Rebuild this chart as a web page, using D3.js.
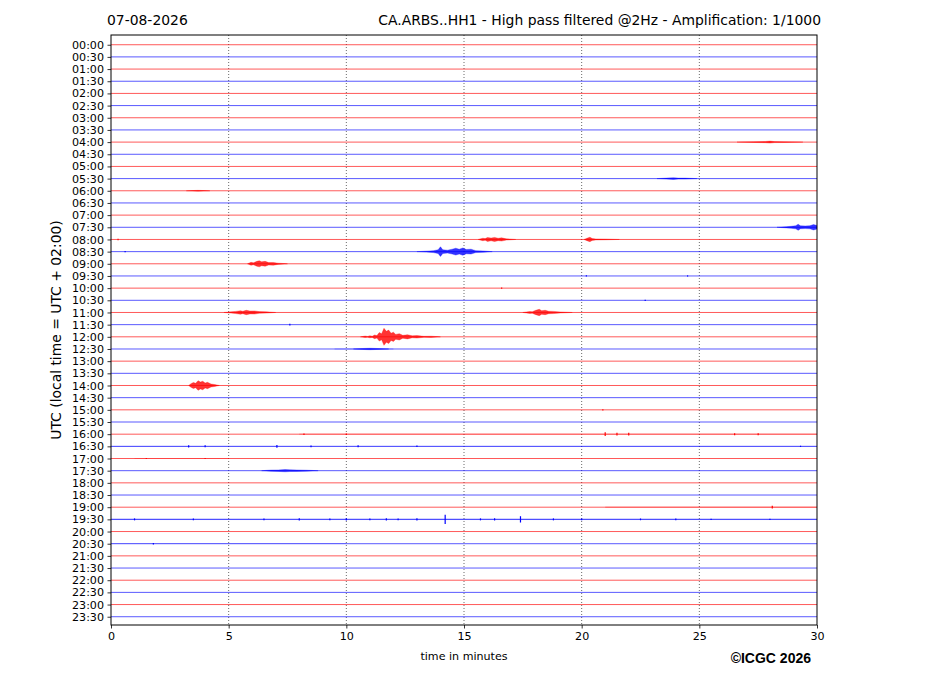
<!DOCTYPE html>
<html>
<head>
<meta charset="utf-8">
<script src="https://cdn.jsdelivr.net/npm/d3@7"></script>
<style>
  html, body { margin: 0; padding: 0; background: #fff; }
  svg { display: block; }
  text { font-family: "DejaVu Sans", sans-serif; fill: #000; }
</style>
</head>
<body>
<svg id="chart" width="927" height="696"></svg>
<script>
// ---------- data ----------
const dateLabel = "07-08-2026";
const titleLabel = "CA.ARBS..HH1 - High pass filtered @2Hz - Amplification: 1/1000";
const xLabel = "time in minutes";
const yLabel = "UTC (local time = UTC + 02:00)";
const credit = "\u00A9ICGC 2026";

// rows of the helicorder (one every 30 minutes)
const rowLabels = [
  "00:00","00:30","01:00","01:30","02:00","02:30","03:00","03:30",
  "04:00","04:30","05:00","05:30","06:00","06:30","07:00","07:30",
  "08:00","08:30","09:00","09:30","10:00","10:30","11:00","11:30",
  "12:00","12:30","13:00","13:30","14:00","14:30","15:00","15:30",
  "16:00","16:30","17:00","17:30","18:00","18:30","19:00","19:30",
  "20:00","20:30","21:00","21:30","22:00","22:30","23:00","23:30"
];
const minuteTicks = [0, 5, 10, 15, 20, 25, 30];
const traceColors = ["#ff0000", "#0000ff"];

// event envelopes: row index, list of [minute, half-amplitude in counts]
const eventRows = [24, 28, 18, 22, 22, 16, 16, 17, 15, 8, 11, 35, 25, 12];
const eventEnvelopes = [
  [[10.6,0],[10.8,60],[10.9,30],[11.0,80],[11.1,50],[11.2,150],[11.3,100],[11.4,350],[11.5,250],[11.6,700],[11.7,450],[11.8,550],[11.9,300],[12.0,380],[12.1,200],[12.25,260],[12.4,120],[12.6,170],[12.8,80],[13.0,100],[13.3,40],[13.6,50],[14.0,0]],
  [[3.3,0],[3.4,150],[3.5,250],[3.6,180],[3.7,400],[3.8,280],[3.9,350],[4.0,200],[4.1,260],[4.25,120],[4.4,80],[4.6,0]],
  [[5.8,0],[5.95,120],[6.05,80],[6.2,200],[6.3,250],[6.4,160],[6.55,200],[6.7,100],[6.9,110],[7.1,50],[7.5,0]],
  [[4.8,0],[5.1,50],[5.3,90],[5.5,140],[5.6,100],[5.75,180],[5.9,120],[6.1,130],[6.3,70],[6.6,50],[7.0,0]],
  [[17.5,0],[17.8,80],[17.9,60],[18.05,180],[18.2,260],[18.3,150],[18.45,180],[18.6,100],[18.8,90],[19.1,40],[19.6,0]],
  [[15.6,0],[15.8,100],[15.9,70],[16.0,160],[16.15,110],[16.3,170],[16.45,100],[16.6,130],[16.8,50],[17.2,0]],
  [[20.1,0],[20.25,120],[20.35,180],[20.45,80],[20.6,40],[21.0,30],[21.6,0]],
  [[13.0,0],[13.4,40],[13.7,80],[13.9,150],[14.0,400],[14.1,150],[14.3,120],[14.5,200],[14.65,280],[14.8,200],[14.95,300],[15.1,180],[15.3,200],[15.5,80],[15.8,60],[16.2,0]],
  [[28.3,0],[28.7,50],[28.9,80],[29.1,130],[29.2,250],[29.3,120],[29.5,110],[29.7,130],[29.85,220],[30.0,150]],
  [[26.6,0],[27.3,30],[27.8,50],[28.0,80],[28.2,40],[28.6,35],[29.4,0]],
  [[23.2,0],[23.6,40],[23.9,70],[24.1,40],[24.4,40],[24.9,0]],
  [[6.4,0],[6.8,50],[7.1,60],[7.4,90],[7.6,70],[7.9,60],[8.3,40],[8.8,0]],
  [[10.3,0],[10.7,40],[11.0,60],[11.3,40],[11.8,0]],
  [[3.2,0],[3.7,35],[4.2,0]]
];

// isolated spikes: row index, minute, half-amplitude in counts
const spikeRows    = [39,39,39,39,39,39,39,39,39,39,39,39,39,39,39,39,39,39,39,39, 32,32,32,32,32,32,32, 33,33,33,33,33,33,33, 38,34,34,41,20,21,19,19,16,17,23,30];
const spikeMinutes = [14.2,17.4,1.0,3.5,6.5,8.0,9.3,10.0,11.0,11.7,12.2,13.0,15.7,16.3,18.8,20.0,22.5,24.0,25.5,28.0, 21.0,21.5,22.0,8.2,10.0,26.5,27.5, 3.3,4.0,7.05,8.5,10.5,13.0,29.3, 28.1,4.0,1.5,1.8,16.6,22.7,20.2,24.5,0.3,0.6,7.6,20.9];
const spikeAmps    = [380,260,80,70,80,90,80,90,80,90,70,90,80,90,80,70,70,70,60,60, 150,110,110,60,60,80,80, 100,80,110,70,80,60,50, 110,40,40,60,50,50,50,50,60,60,70,50];

// background noise bands: row index, start minute, end minute, half-amplitude in counts
const noiseRows   = [39, 32, 38, 33, 34, 25, 41];
const noiseStart  = [0, 8, 21, 0, 1, 9.5, 0];
const noiseEnd    = [30, 30, 30, 30, 5, 12, 10];
const noiseAmps   = [55, 45, 50, 35, 30, 40, 25];

// ---------- layout ----------
const svg = d3.select("#chart");
const margin = {left: 111, top: 35, right: 927 - 817, bottom: 696 - 625};
const W = 927 - margin.left - margin.right;
const H = 696 - margin.top - margin.bottom;

const x = d3.scaleLinear().domain([0, 30]).range([margin.left, margin.left + W]);
const y = d3.scaleLinear().domain([-0.8, 47.68]).range([margin.top, margin.top + H]);
const rowStep = y(1) - y(0);
const amp = d3.scaleLinear().domain([0, 1000]).range([0, rowStep]); // amplification 1/1000

// clip
svg.append("defs").append("clipPath").attr("id", "clip")
  .append("rect").attr("x", margin.left).attr("y", margin.top).attr("width", W).attr("height", H);

const plot = svg.append("g").attr("clip-path", "url(#clip)");

// vertical grid
plot.append("g").selectAll("line")
  .data(minuteTicks.filter(d => d > 0 && d < 30))
  .join("line")
  .attr("x1", d => x(d)).attr("x2", d => x(d))
  .attr("y1", margin.top).attr("y2", margin.top + H)
  .attr("stroke", "#444").attr("stroke-width", 0.8)
  .attr("stroke-dasharray", "1,2");

// baselines
plot.append("g").selectAll("line")
  .data(rowLabels.map((d, i) => i))
  .join("line")
  .attr("x1", x(0)).attr("x2", x(30))
  .attr("y1", d => y(d)).attr("y2", d => y(d))
  .attr("stroke", d => traceColors[d % 2])
  .attr("stroke-opacity", 0.65)
  .attr("stroke-width", 1);

// noise bands
plot.append("g").selectAll("rect")
  .data(noiseRows.map((r, i) => ({r, s: noiseStart[i], e: noiseEnd[i], a: noiseAmps[i]})))
  .join("rect")
  .attr("x", d => x(d.s)).attr("width", d => x(d.e) - x(d.s))
  .attr("y", d => y(d.r) - amp(d.a)).attr("height", d => 2 * amp(d.a))
  .attr("fill", d => traceColors[d.r % 2]).attr("fill-opacity", 0.3);

// event envelopes
const area = d3.area()
  .x(d => x(d[0]))
  .y0(d => d.base + amp(d[1]))
  .y1(d => d.base - amp(d[1]))
  .curve(d3.curveLinear);

plot.append("g").selectAll("path")
  .data(eventRows.map((r, i) => ({r, pts: eventEnvelopes[i]})))
  .join("path")
  .attr("d", d => area(d.pts.map(p => Object.assign([p[0], p[1]], {base: y(d.r)}))))
  .attr("fill", d => traceColors[d.r % 2])
  .attr("fill-opacity", 0.8)
  .attr("stroke", d => traceColors[d.r % 2])
  .attr("stroke-width", 0.6)
  .attr("stroke-opacity", 0.5);

// spikes
plot.append("g").selectAll("line")
  .data(spikeRows.map((r, i) => ({r, t: spikeMinutes[i], a: spikeAmps[i]})))
  .join("line")
  .attr("x1", d => x(d.t)).attr("x2", d => x(d.t))
  .attr("y1", d => y(d.r) - amp(d.a)).attr("y2", d => y(d.r) + amp(d.a))
  .attr("stroke", d => traceColors[d.r % 2])
  .attr("stroke-width", 1.2);

// frame
svg.append("rect")
  .attr("x", margin.left).attr("y", margin.top).attr("width", W).attr("height", H)
  .attr("fill", "none").attr("stroke", "#000").attr("stroke-width", 1);

// axes
const xAxis = svg.append("g")
  .attr("transform", `translate(0,${margin.top + H})`)
  .call(d3.axisBottom(x).tickValues(minuteTicks).tickFormat(d3.format("d")).tickSize(3.5).tickPadding(4));
const yAxis = svg.append("g")
  .attr("transform", `translate(${margin.left},0)`)
  .call(d3.axisLeft(y).tickValues(rowLabels.map((d, i) => i)).tickFormat(i => rowLabels[i]).tickSize(3.5).tickPadding(3.5));
[xAxis, yAxis].forEach(a => {
  a.select(".domain").remove();
  a.selectAll(".tick line").attr("stroke", "#000").attr("stroke-width", 0.8);
  a.selectAll(".tick text").attr("font-family", "DejaVu Sans").attr("font-size", "11.1px").attr("fill", "#000");
});

// labels
svg.append("text").attr("x", 107).attr("y", 25).attr("font-size", "13.9px").text(dateLabel);
svg.append("text").attr("x", 821).attr("y", 25).attr("text-anchor", "end").attr("font-size", "13.9px").text(titleLabel);
svg.append("text").attr("x", x(15)).attr("y", 660).attr("text-anchor", "middle").attr("font-size", "11.1px").text(xLabel);
svg.append("text")
  .attr("transform", `translate(61,${margin.top + H / 2}) rotate(-90)`)
  .attr("text-anchor", "middle").attr("font-size", "13.9px").text(yLabel);
svg.append("text").attr("x", 811).attr("y", 663).attr("text-anchor", "end")
  .style("font-family", "'Liberation Sans', Arial, sans-serif").attr("font-weight", "bold")
  .attr("font-size", "14px").text(credit);
</script>
</body>
</html>
